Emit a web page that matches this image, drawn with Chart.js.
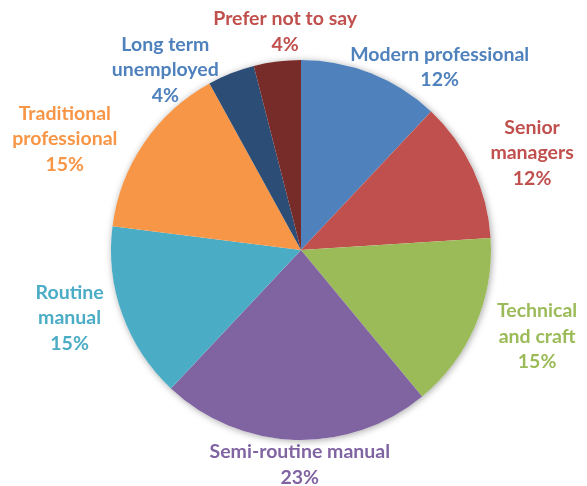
<!DOCTYPE html>
<html>
<head>
<meta charset="utf-8">
<script src="https://cdn.jsdelivr.net/npm/chart.js@4.4.1/dist/chart.umd.min.js"></script>
<style>
  html, body { margin: 0; padding: 0; background: #fff; }
  #wrap { width: 587px; height: 486px; position: relative; }
</style>
</head>
<body>
<div id="wrap"><canvas id="pie"></canvas></div>
<script>
const categories = ['Modern professional', 'Senior managers', 'Technical and craft', 'Semi-routine manual',
                    'Routine manual', 'Traditional professional', 'Long term unemployed', 'Prefer not to say'];
const shares = [12, 12, 15, 23, 15, 15, 4, 4];
const labelLines = [
    ['Modern professional'], ['Senior', 'managers'], ['Technical', 'and craft'], ['Semi-routine manual'],
    ['Routine', 'manual'], ['Traditional', 'professional'], ['Long term', 'unemployed'], ['Prefer not to say']
];
const sliceColors = ['#4F81BD', '#C0504D', '#9BBB59', '#8064A2', '#4BACC6', '#F79646', '#2C4D75', '#772C2A'];
const textColors  = ['#4F81BD', '#C0504D', '#9BBB59', '#8064A2', '#4BACC6', '#F79646', '#4F81BD', '#C0504D'];

// nudges from the default spot (40px outside the rim, on the slice's middle angle)
const nudge = [[54, 31], [23, 1], [25, -5], [6, -15], [-15, -10], [-46, 18], [-51, 34], [13, 10]];

// soft shadow behind the whole disc
const discShadow = {
    id: 'discShadow',
    beforeDatasetsDraw(chart) {
        const arc = chart.getDatasetMeta(0).data[0];
        const ctx = chart.ctx;
        ctx.save();
        ctx.shadowColor = 'rgba(0,0,0,0.35)';
        ctx.shadowBlur = 7;
        ctx.shadowOffsetX = 1;
        ctx.shadowOffsetY = 1;
        ctx.fillStyle = '#fff';
        ctx.beginPath();
        ctx.arc(arc.x, arc.y, arc.outerRadius, 0, Math.PI * 2);
        ctx.fill();
        ctx.restore();
    }
};

const outsideLabels = {
    id: 'outsideLabels',
    afterDatasetsDraw(chart) {
        const ctx = chart.ctx;
        const total = shares.reduce((a, b) => a + b, 0);
        ctx.save();
        ctx.font = 'bold 19.5px Lato';
        ctx.textAlign = 'center';
        ctx.textBaseline = 'middle';
        chart.getDatasetMeta(0).data.forEach((arc, i) => {
            const mid = (arc.startAngle + arc.endAngle) / 2;
            const r = arc.outerRadius + 40;
            const cx = arc.x + Math.cos(mid) * r + nudge[i][0];
            const cy = arc.y + Math.sin(mid) * r + nudge[i][1];
            const lines = labelLines[i].concat([Math.round(shares[i] / total * 100) + '%']);
            const lh = 25.5;
            const top = cy - (lines.length - 1) * lh / 2;
            ctx.fillStyle = textColors[i];
            lines.forEach((t, k) => ctx.fillText(t, cx, top + k * lh));
        });
        ctx.restore();
    }
};

new Chart(document.getElementById('pie'), {
    type: 'pie',
    data: {
        labels: categories,
        datasets: [{
            data: shares,
            backgroundColor: sliceColors,
            borderWidth: 0
        }]
    },
    options: {
        responsive: true,
        maintainAspectRatio: false,
        animation: false,
        layout: { padding: { top: 60, bottom: 46, left: 111, right: 96 } },
        plugins: {
            legend: { display: false },
            tooltip: { enabled: false }
        }
    },
    plugins: [discShadow, outsideLabels]
});
</script>
</body>
</html>
